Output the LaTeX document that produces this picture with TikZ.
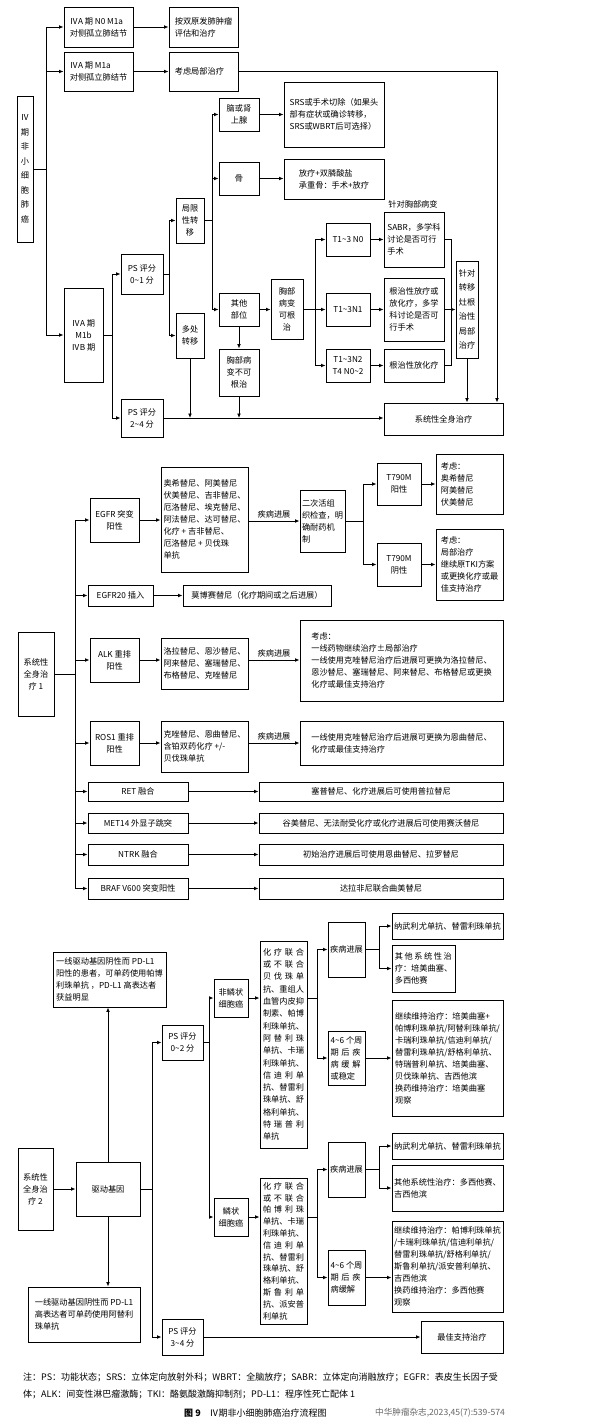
\documentclass[tikz,border=0pt]{standalone}
\usepackage{fontspec}
\setmainfont{Noto Sans CJK SC}
\usetikzlibrary{arrows.meta}
\newcommand\fsz{\fontsize{8.2}{12}\selectfont}
\newcommand\spr[2]{\makebox[#1pt][s]{#2}}
\newcommand\tildex{\textasciitilde}
\newcommand\bx[7][]{\node[box,minimum width={#5-#3},minimum height={#6-#4},#1] (#2) at ({(#3+#5)/2},{(#4+#6)/2}) {#7};}
\tikzset{
 box/.style={draw, line width=0.9pt, inner sep=1.5pt, align=left, font=\fsz},
 cbox/.style={align=center},
 arr/.style={line width=0.9pt, -{Latex[length=4.5pt,width=3.8pt]}},
 ln/.style={line width=0.9pt},
 lbl/.style={above=1.5pt, inner sep=1pt, font=\fsz},
}
\begin{document}
\begin{tikzpicture}[x=1pt,y=-1pt]
\useasboundingbox (0,0) rectangle (600,1426);
\fill[white] (0,0) rectangle (600,1426);
% trunk coordinates
\coordinate (X46) at (46,0);
\coordinate (X112) at (112,0);
\coordinate (X169) at (169,0);
\coordinate (X212) at (212,0);
\coordinate (X315) at (315,0);
\coordinate (X451) at (451,0);
\coordinate (X497) at (497,0);
\coordinate (X75) at (75,0);
\coordinate (X363) at (363,0);
\coordinate (X152) at (152,0);
\coordinate (X209) at (209,0);
\coordinate (X317) at (317,0);
\coordinate (X379) at (379,0);

%================ part 1
\bx[cbox,font={\fontsize{8.2}{14.5}\selectfont}]{a0}{17}{96}{33}{242}{Ⅳ\\期\\非\\小\\细\\胞\\肺\\癌}
\bx{a1}{64}{7}{133}{47}{ⅣA 期 N0 M1a\\对侧孤立肺结节}
\bx{a2}{169}{7}{238}{47}{按双原发肺肿瘤\\评估和治疗}
\bx{b1}{64}{52}{133}{91}{ⅣA 期 M1a\\对侧孤立肺结节}
\bx{b2}{169}{52}{238}{91}{考虑局部治疗\phantom{一}}
\bx[cbox]{c1}{64}{288}{103}{382}{ⅣA 期\\M1b\\ⅣB 期}
\bx[cbox]{p1}{121}{254}{163}{294}{PS 评分\\0\tildex1 分}
\bx[cbox]{p2}{121}{399}{163}{437}{PS 评分\\2\tildex4 分}
\bx[cbox]{lj}{176}{198}{204}{243}{局限\\性转\\移}
\bx[cbox]{dc}{176}{313}{204}{358}{多处\\转移}
\bx[cbox]{nao}{219}{98}{259}{131}{脑或肾\\上腺}
\bx[cbox]{gu}{219}{162}{259}{195}{骨}
\bx[cbox]{qt}{219}{293}{259}{326}{其他\\部位}
\bx[cbox]{bkg}{219}{349}{259}{396}{胸部病\\变不可\\根治}
\bx{srs}{284}{82}{384}{147}{SRS或手术切除（如果头\\部有症状或确诊转移，\\SRS或WBRT后可选择）}
\bx{fang}{284}{159}{384}{199}{放疗+双膦酸盐\\承重骨：手术+放疗}
\bx[cbox]{kg}{271}{279}{303}{339}{胸部\\病变\\可根\\治}
\bx[cbox]{t0}{326}{223}{370}{256}{T1\tildex3 N0}
\bx[cbox]{t1}{326}{293}{370}{326}{T1\tildex3N1}
\bx[cbox]{t2}{326}{349}{370}{382}{T1\tildex3N2\\T4 N0\tildex2}
\node[font=\fsz] (zxb) at (413,204) {针对胸部病变};
\bx{s0}{384}{212}{444}{267}{SABR，多学科\\讨论是否可行\\手术}
\bx{s1}{384}{278}{444}{341}{根治性放疗或\\放化疗，多学\\科讨论是否可\\行手术}
\bx{s2}{384}{349}{444}{382}{根治性放化疗}
\bx[cbox,font={\fontsize{8.2}{14.5}\selectfont}]{zz}{456}{261}{478}{358}{针对\\转移\\灶根\\治性\\局部\\治疗}
\bx[cbox]{sys}{384}{403}{503}{435}{系统性全身治疗}

\draw[ln] (a0.east) -- (a0.east -| X46);
\draw[ln] (X46 |- a1) -- (X46 |- c1);
\draw[arr] (X46 |- a1) -- (a1.west);
\draw[arr] (X46 |- b1) -- (b1.west);
\draw[arr] (X46 |- c1) -- (c1.west);
\draw[arr] (a1) -- (a2);
\draw[arr] (b1) -- (b2);
\draw[arr] (b2.east) -- (b2.east -| X497) -- (X497 |- sys.north);
\draw[ln] (c1.east) -- (c1.east -| X112);
\draw[ln] (X112 |- p1) -- (X112 |- p2);
\draw[arr] (X112 |- p1) -- (p1.west);
\draw[arr] (X112 |- p2) -- (p2.west);
\draw[ln] (p1.east) -- (p1.east -| X169);
\draw[ln] (X169 |- lj) -- (X169 |- dc);
\draw[arr] (X169 |- lj) -- (lj.west);
\draw[arr] (X169 |- dc) -- (dc.west);
\draw[ln] (lj.east) -- (lj.east -| X212);
\draw[ln] (X212 |- nao) -- (X212 |- qt);
\draw[arr] (X212 |- nao) -- (nao.west);
\draw[arr] (X212 |- gu) -- (gu.west);
\draw[arr] (X212 |- qt) -- (qt.west);
\draw[arr] (nao) -- (srs);
\draw[arr] (gu.east) -- (gu.east -| fang.west);
\draw[arr] (qt.east) -- (qt.east -| kg.west);
\draw[arr] (qt.south) -- (bkg.north);
\draw[arr] (bkg.south) -- (bkg.south |- p2.east);
\draw[arr] (dc.south) -- (dc.south |- p2.east);
\draw[arr] (p2.east) -- (p2.east -| sys.west);
\draw[ln] (kg.east) -- (kg.east -| X315);
\draw[ln] (X315 |- t0) -- (X315 |- t2);
\draw[arr] (X315 |- t0) -- (t0.west);
\draw[arr] (X315 |- t1) -- (t1.west);
\draw[arr] (X315 |- t2) -- (t2.west);
\draw[arr] (t0) -- (s0);
\draw[arr] (t1) -- (s1);
\draw[arr] (t2) -- (s2);
\draw[ln] (s0.east) -- (s0.east -| X451) -- (X451 |- s2) -- (s2.east);
\draw[arr] (s1.east) -- (zz.west);
\draw[arr] (zz.south) -- (zz.south |- sys.north);

%================ part 2
\bx[cbox]{m0}{18}{632}{54}{716}{系统性\\全身治\\疗 1}
\bx[cbox]{eg}{90}{498}{139}{542}{EGFR 突变\\阳性}
\bx{egd}{161}{467}{248}{572}{奥希替尼、阿美替尼\\伏美替尼、吉非替尼、\\厄洛替尼、埃克替尼、\\阿法替尼、达可替尼、\\化疗 + 吉非替尼、\\厄洛替尼 + 贝伐珠\\单抗\phantom{一一一一一一一一}}
\bx{bio}{300}{490}{345}{552}{二次活组\\织检查，明\\确耐药机\\制}
\bx[cbox]{tp}{377}{463}{421}{505}{T790M\\阳性}
\bx[cbox]{tn}{377}{543}{421}{586}{T790M\\阴性}
\bx{tpr}{436}{454}{503}{514}{考虑：\\奥希替尼\\阿美替尼\\伏美替尼\phantom{一一一}}
\bx{tnr}{436}{529}{503}{600}{考虑：\\局部治疗\\继续原TKI方案\\或更换化疗或最\\佳支持治疗}
\bx[cbox]{e20}{88}{585}{153}{606}{EGFR20 插入}
\bx[cbox]{e20r}{183}{585}{331}{606}{莫博赛替尼（化疗期间或之后进展）}
\bx[cbox]{alk}{90}{638}{139}{682}{ALK 重排\\阳性}
\bx{alkd}{161}{638}{248}{689}{洛拉替尼、恩沙替尼、\\阿来替尼、塞瑞替尼、\\布格替尼、克唑替尼}
\bx{alkr}{300}{620}{503}{701}{考虑：\\一线药物继续治疗±局部治疗\\一线使用克唑替尼治疗后进展可更换为洛拉替尼、\\恩沙替尼、塞瑞替尼、阿来替尼、布格替尼或更换\\化疗或最佳支持治疗}
\bx[cbox]{ros}{90}{721}{139}{765}{ROS1 重排\\阳性}
\bx{rosd}{161}{721}{248}{772}{克唑替尼、恩曲替尼、\\含铂双药化疗 +/-\\贝伐珠单抗}
\bx{rosr}{300}{721}{503}{765}{一线使用克唑替尼治疗后进展可更换为恩曲替尼、\\化疗或最佳支持治疗}
\bx[cbox]{ret}{88}{782}{188}{801}{RET 融合}
\bx[cbox]{retr}{259}{782}{503}{801}{塞普替尼、化疗进展后可使用普拉替尼}
\bx[cbox]{met}{88}{813}{188}{833}{MET14 外显子跳突}
\bx[cbox]{metr}{259}{813}{503}{833}{谷美替尼、无法耐受化疗或化疗进展后可使用赛沃替尼}
\bx[cbox]{ntrk}{88}{844}{188}{865}{NTRK 融合}
\bx[cbox]{ntrkr}{259}{844}{503}{865}{初始治疗进展后可使用恩曲替尼、拉罗替尼}
\bx[cbox]{braf}{88}{878}{188}{899}{BRAF V600 突变阳性}
\bx[cbox]{brafr}{259}{878}{503}{899}{达拉非尼联合曲美替尼}

\draw[ln] (m0.east) -- (m0.east -| X75);
\draw[ln] (X75 |- eg) -- (X75 |- braf);
\foreach \n in {eg,e20,alk,ros,ret,met,ntrk,braf} \draw[arr] (X75 |- \n) -- (\n.west);
\draw[arr] (eg.east) -- (eg.east -| egd.west);
\draw[arr] (egd.east |- bio) -- node[lbl] (L1) {疾病进展} (bio.west);
\draw[ln] (bio.east) -- (bio.east -| X363);
\draw[ln] (X363 |- tp) -- (X363 |- tn);
\draw[arr] (X363 |- tp) -- (tp.west);
\draw[arr] (X363 |- tn) -- (tn.west);
\draw[arr] (tp) -- (tpr);
\draw[arr] (tn) -- (tnr);
\draw[arr] (e20) -- (e20r);
\draw[arr] (alk.east) -- (alk.east -| alkd.west);
\draw[arr] (alkd.east |- alk) -- node[lbl] (L2) {疾病进展} (alkr.west |- alk);
\draw[arr] (ros.east) -- (ros.east -| rosd.west);
\draw[arr] (rosd.east |- ros) -- node[lbl] (L3) {疾病进展} (rosr.west |- ros);
\draw[arr] (ret) -- (retr);
\draw[arr] (met) -- (metr);
\draw[arr] (ntrk) -- (ntrkr);
\draw[arr] (braf) -- (brafr);

%================ part 3
\bx[cbox]{n0}{18}{1148}{53}{1230}{系统性\\全身治\\疗 2}
\bx[cbox]{qd}{76}{1162}{140}{1216}{驱动基因}
\bx{pd1}{53}{952}{166}{1007}{一线驱动基因阴性而 PD-L1\\阳性的患者，可单药使用帕博\\利珠单抗 ，PD-L1 高表达者\\获益明显}
\bx{pd2}{28}{1287}{140}{1342}{一线驱动基因阴性而 PD-L1\\高表达者可单药使用阿替利\\珠单抗}
\bx[cbox]{ps02}{162}{1025}{203}{1060}{PS 评分\\0\tildex2 分}
\bx[cbox]{ps34}{162}{1319}{203}{1355}{PS 评分\\3\tildex4 分}
\bx[cbox]{bsc}{421}{1321}{503}{1353}{最佳支持治疗}
\bx[cbox]{fls}{214}{979}{248}{1017}{非鳞状\\细胞癌}
\bx[cbox]{lz}{214}{1198}{248}{1236}{鳞状\\细胞癌}
\bx[font={\fontsize{8.2}{12.3}\selectfont}]{ch1}{260}{941}{307}{1148}{\spr{41}{化 疗 联 合}\\\spr{41}{或 不 联 合}\\\spr{41}{贝 伐 珠 单}\\抗、重组人\\血管内皮抑\\制素、帕博\\利珠单抗、\\\spr{41}{阿 替 利 珠}\\单抗、卡瑞\\利珠单抗、\\\spr{41}{信 迪 利 单}\\抗、替雷利\\珠单抗、舒\\格利单抗、\\\spr{41}{特 瑞 普 利}\\单抗}
\bx[font={\fontsize{8.2}{11.8}\selectfont}]{ch2}{260}{1178}{307}{1324}{\spr{41}{化 疗 联 合}\\\spr{41}{或 不 联 合}\\\spr{41}{帕 博 利 珠}\\单抗、卡瑞\\利珠单抗、\\\spr{41}{信 迪 利 单}\\抗、替雷利\\珠单抗、舒\\格利单抗、\\\spr{41}{斯 鲁 利 单}\\抗、派安普\\利单抗}
\bx[cbox]{jb1}{328}{922}{365}{977}{疾病进展}
\bx{hj1}{328}{1031}{365}{1085}{4\tildex6 个周\\\spr{30}{期 后 疾}\\\spr{30}{病 缓 解}\\或稳定}
\bx[cbox]{jb2}{328}{1142}{365}{1197}{疾病进展}
\bx{hj2}{328}{1250}{365}{1305}{4\tildex6 个周\\\spr{30}{期 后 疾}\\病缓解}
\bx{nw1}{392}{913}{503}{939}{纳武利尤单抗、替雷利珠单抗}
\bx{qt1}{392}{945}{455}{992}{\spr{57}{其 他 系 统 性 治}\\疗：培美曲塞、\\多西他赛}
\bx{wc1}{392}{1000}{503}{1116}{继续维持治疗：培美曲塞+\\帕博利珠单抗/阿替利珠单抗/\\卡瑞利珠单抗/信迪利单抗/\\替雷利珠单抗/舒格利单抗、\\特瑞普利单抗、培美曲塞、\\贝伐珠单抗、吉西他滨\\换药维持治疗：培美曲塞\\观察}
\bx{nw2}{392}{1133}{503}{1159}{纳武利尤单抗、替雷利珠单抗}
\bx{qt2}{392}{1165}{503}{1211}{其他系统性治疗：多西他赛、\\吉西他滨}
\bx{wc2}{392}{1221}{503}{1312}{继续维持治疗：帕博利珠单抗\\/卡瑞利珠单抗/信迪利单抗/\\替雷利珠单抗/舒格利单抗/\\斯鲁利单抗/派安普利单抗、\\吉西他滨\\换药维持治疗：多西他赛\\观察}

\draw[arr] (n0) -- (qd);
\draw[arr] (qd.north) -- (qd.north |- pd1.south);
\draw[arr] (qd.south) -- (qd.south |- pd2.north);
\draw[ln] (qd.east) -- (qd.east -| X152);
\draw[ln] (X152 |- ps02) -- (X152 |- ps34);
\draw[arr] (X152 |- ps02) -- (ps02.west);
\draw[arr] (X152 |- ps34) -- (ps34.west);
\draw[arr] (ps34) -- (bsc);
\draw[ln] (ps02.east) -- (ps02.east -| X209);
\draw[ln] (X209 |- fls) -- (X209 |- lz);
\draw[arr] (X209 |- fls) -- (fls.west);
\draw[arr] (X209 |- lz) -- (lz.west);
\draw[arr] (fls.east) -- (fls.east -| ch1.west);
\draw[arr] (lz.east) -- (lz.east -| ch2.west);
\draw[ln] (ch1.east |- fls) -- (X317 |- fls);
\draw[ln] (X317 |- jb1) -- (X317 |- hj1);
\draw[arr] (X317 |- jb1) -- (jb1.west);
\draw[arr] (X317 |- hj1) -- (hj1.west);
\draw[ln] (ch2.east |- lz) -- (X317 |- lz);
\draw[ln] (X317 |- jb2) -- (X317 |- hj2);
\draw[arr] (X317 |- jb2) -- (jb2.west);
\draw[arr] (X317 |- hj2) -- (hj2.west);
\draw[ln] (jb1.east) -- (jb1.east -| X379);
\draw[ln] (X379 |- nw1) -- (X379 |- qt1);
\draw[arr] (X379 |- nw1) -- (nw1.west);
\draw[arr] (X379 |- qt1) -- (qt1.west);
\draw[arr] (hj1) -- (wc1);
\draw[ln] (jb2.east) -- (jb2.east -| X379);
\draw[ln] (X379 |- nw2) -- (X379 |- qt2);
\draw[arr] (X379 |- nw2) -- (nw2.west);
\draw[arr] (X379 |- qt2) -- (qt2.west);
\draw[arr] (hj2.east) -- (hj2.east -| wc2.west);

%================ notes
\node[anchor=west, inner sep=0, font={\fontsize{9}{12}\selectfont}] (note1) at (23,1377) {注：PS：功能状态；SRS：立体定向放射外科；WBRT：全脑放疗；SABR：立体定向消融放疗；EGFR：表皮生长因子受};
\node[anchor=west, inner sep=0, font={\fontsize{9}{12}\selectfont}] (note2) at (23,1394) {体；ALK：间变性淋巴瘤激酶；TKI：酪氨酸激酶抑制剂；PD-L1：程序性死亡配体 1};
\node[anchor=west, inner sep=0, font={\fontsize{9}{12}\selectfont}] (cap) at (184,1413) {\textbf{图 9}\hspace{1em}Ⅳ期非小细胞肺癌治疗流程图};
\node[anchor=west, inner sep=0, text=black!60, font={\fontsize{8.6}{12}\selectfont}] (src) at (375,1413) {中华肿瘤杂志,2023,45(7):539-574};
\end{tikzpicture}
\end{document}
